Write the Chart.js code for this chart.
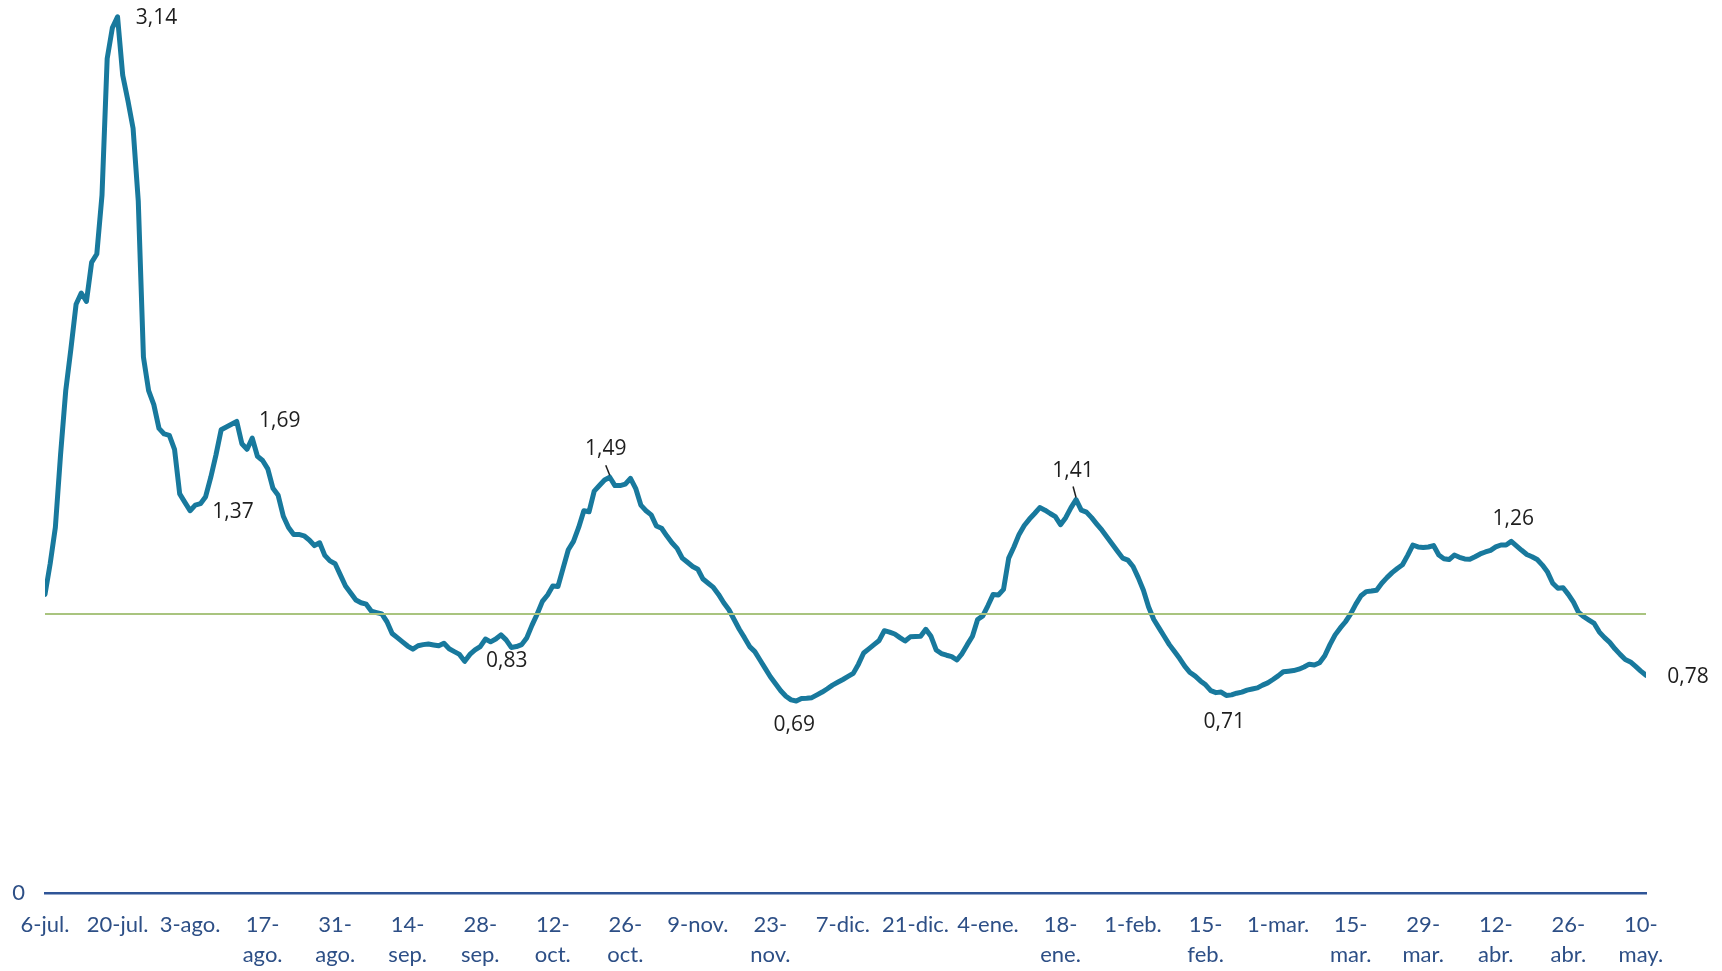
<!DOCTYPE html>
<html>
<head>
<meta charset="utf-8">
<title>R efectivo</title>
<script src="https://cdn.jsdelivr.net/npm/chart.js@4.4.1/dist/chart.umd.min.js"></script>
<style>
  html, body { margin: 0; padding: 0; background: #ffffff; }
  #chart { display: block; }
</style>
</head>
<body>
<canvas id="chart" width="1722" height="971"></canvas>
<script>
// valores diarios desde el 6-jul. (día 0) hasta el 11-may. (día 309)
const rValues = [
  1.07, 1.18, 1.31, 1.57, 1.80, 1.95, 2.11, 2.15, 2.12, 2.26, 2.29, 2.50, 2.99, 3.10,
  3.14, 2.93, 2.84, 2.74, 2.48, 1.92, 1.80, 1.75, 1.665, 1.645, 1.64, 1.59, 1.43, 1.40,
  1.37, 1.39, 1.395, 1.42, 1.49, 1.57, 1.66, 1.67, 1.68, 1.69, 1.61, 1.59, 1.63, 1.565,
  1.55, 1.52, 1.45, 1.425, 1.35, 1.31, 1.285, 1.285, 1.28, 1.265, 1.245, 1.255, 1.21, 1.19,
  1.18, 1.14, 1.10, 1.075, 1.05, 1.04, 1.035, 1.01, 1.005, 1.00, 0.972, 0.93, 0.915, 0.90,
  0.885, 0.874, 0.886, 0.89, 0.892, 0.889, 0.886, 0.895, 0.875, 0.865, 0.855, 0.83, 0.855, 0.871,
  0.883, 0.91, 0.90, 0.91, 0.925, 0.907, 0.88, 0.883, 0.89, 0.915, 0.96, 1.00, 1.045, 1.068,
  1.10, 1.098, 1.164, 1.23, 1.26, 1.31, 1.37, 1.366, 1.44, 1.46, 1.48, 1.49, 1.46, 1.46,
  1.465, 1.486, 1.45, 1.39, 1.37, 1.355, 1.315, 1.307, 1.28, 1.255, 1.235, 1.20, 1.185, 1.17,
  1.16, 1.125, 1.11, 1.095, 1.07, 1.04, 1.015, 0.98, 0.945, 0.915, 0.883, 0.865, 0.835, 0.805,
  0.775, 0.75, 0.725, 0.705, 0.692, 0.688, 0.697, 0.698, 0.70, 0.71, 0.72, 0.732, 0.745, 0.755,
  0.765, 0.776, 0.787, 0.82, 0.86, 0.875, 0.89, 0.905, 0.94, 0.935, 0.928, 0.915, 0.903, 0.918,
  0.919, 0.92, 0.945, 0.92, 0.871, 0.858, 0.852, 0.847, 0.835, 0.858, 0.89, 0.92, 0.98, 0.993,
  1.03, 1.07, 1.068, 1.088, 1.20, 1.24, 1.285, 1.317, 1.34, 1.36, 1.381, 1.372, 1.36, 1.349,
  1.32, 1.345, 1.38, 1.41, 1.372, 1.365, 1.345, 1.322, 1.30, 1.275, 1.25, 1.225, 1.20, 1.193,
  1.17, 1.13, 1.085, 1.025, 0.98, 0.95, 0.92, 0.89, 0.865, 0.84, 0.812, 0.79, 0.777, 0.76,
  0.746, 0.725, 0.718, 0.72, 0.708, 0.71, 0.716, 0.72, 0.727, 0.731, 0.735, 0.745, 0.753, 0.765,
  0.778, 0.793, 0.795, 0.797, 0.802, 0.81, 0.82, 0.817, 0.825, 0.85, 0.89, 0.925, 0.95, 0.972,
  1.00, 1.035, 1.065, 1.08, 1.082, 1.085, 1.11, 1.13, 1.148, 1.163, 1.176, 1.21, 1.247, 1.24,
  1.238, 1.24, 1.245, 1.211, 1.198, 1.195, 1.211, 1.203, 1.197, 1.196, 1.205, 1.215, 1.222, 1.228,
  1.24, 1.247, 1.247, 1.26, 1.244, 1.228, 1.213, 1.205, 1.195, 1.175, 1.15, 1.11, 1.092, 1.094,
  1.07, 1.042, 1.005, 0.99, 0.978, 0.966, 0.935, 0.915, 0.898, 0.875, 0.855, 0.837, 0.828, 0.812,
  0.795, 0.78
];

// línea de referencia R = 1
const thresholdValue = 1;

// etiquetas del eje X, una cada 14 días
const tickDays = [0, 14, 28, 42, 56, 70, 84, 98, 112, 126, 140, 154, 168, 182, 196, 210, 224, 238, 252, 266, 280, 294, 308];
const tickLabels = [
  '6-jul.', '20-jul.', '3-ago.', ['17-', 'ago.'], ['31-', 'ago.'], ['14-', 'sep.'], ['28-', 'sep.'],
  ['12-', 'oct.'], ['26-', 'oct.'], '9-nov.', ['23-', 'nov.'], '7-dic.', '21-dic.', '4-ene.',
  ['18-', 'ene.'], '1-feb.', ['15-', 'feb.'], '1-mar.', ['15-', 'mar.'], ['29-', 'mar.'],
  ['12-', 'abr.'], ['26-', 'abr.'], ['10-', 'may.']
];

// puntos con etiqueta de valor (día)
const labelDays = [14, 28, 37, 81, 109, 145, 199, 228, 283, 309];
// desplazamiento de cada etiqueta respecto a su punto, y si lleva línea guía
const labelOffsets = [[39, 1], [43, 1], [43, 0], [42, 0], [-4, -28], [-2, 24], [-3, -29], [-2, 27], [2, -22], [42, 2]];
const labelLeader = [false, false, false, false, true, false, true, false, false, false];

const lastDay = rValues.length - 1;

// dibuja las etiquetas de valor
const valueLabels = {
    id: 'valueLabels',
    afterDatasetsDraw(chart) {
        const ctx = chart.ctx;
        const x = chart.scales.x;
        const y = chart.scales.y;
        ctx.save();
        ctx.font = '21px "Open Sans"';
        ctx.fillStyle = '#1e1e1e';
        ctx.strokeStyle = '#1e1e1e';
        ctx.lineWidth = 1.5;
        ctx.textAlign = 'center';
        ctx.textBaseline = 'middle';
        labelDays.forEach((d, i) => {
            const v = rValues[d];
            const px = x.getPixelForValue(d);
            const py = y.getPixelForValue(v);
            const lx = px + labelOffsets[i][0];
            const ly = py + labelOffsets[i][1];
            ctx.fillText(v.toFixed(2).replace('.', ','), lx, ly);
            if (labelLeader[i]) {
                ctx.beginPath();
                ctx.moveTo(lx, ly + 16);
                ctx.lineTo(px, py - 2);
                ctx.stroke();
            }
        });
        ctx.restore();
    }
};

const tickFont = { family: 'Lato', size: 22, lineHeight: 1.35 };
const tickColor = '#2D4F86';

new Chart(document.getElementById('chart'), {
    type: 'line',
    data: {
        datasets: [
            {
                data: rValues.map((v, i) => ({ x: i, y: v })),
                borderColor: '#18799D',
                borderWidth: 5,
                pointRadius: 0,
                tension: 0,
                borderJoinStyle: 'round',
                borderCapStyle: 'round',
                order: 2
            },
            {
                data: [{ x: 0, y: thresholdValue }, { x: lastDay, y: thresholdValue }],
                borderColor: '#A9C47F',
                borderWidth: 2,
                pointRadius: 0,
                order: 1
            }
        ]
    },
    options: {
        responsive: false,
        animation: false,
        layout: { padding: { left: 12, right: 76, top: 0, bottom: 0 } },
        plugins: {
            legend: { display: false },
            tooltip: { enabled: false }
        },
        scales: {
            x: {
                type: 'linear',
                min: 0,
                max: lastDay,
                afterBuildTicks: axis => { axis.ticks = tickDays.map(d => ({ value: d })); },
                // alto fijo del eje para que el área del gráfico termine donde en el original
                afterFit: axis => {
                    axis.height = 78;
                    axis.paddingLeft = 0;
                    axis.paddingRight = 0;
                },
                ticks: {
                    callback: value => tickLabels[tickDays.indexOf(value)],
                    autoSkip: false,
                    maxRotation: 0,
                    padding: 17,
                    font: tickFont,
                    color: tickColor
                },
                grid: { display: false, drawTicks: false },
                border: { display: true, color: '#2F5597', width: 2.5 }
            },
            y: {
                min: 0,
                max: 3.2,
                afterBuildTicks: axis => { axis.ticks = [{ value: 0 }]; },
                afterFit: axis => {
                    axis.width = 33;
                    axis.paddingTop = 0;
                    axis.paddingBottom = 0;
                },
                ticks: {
                    padding: 20,
                    font: tickFont,
                    color: tickColor
                },
                grid: { display: false, drawTicks: false },
                border: { display: false }
            }
        }
    },
    plugins: [valueLabels]
});
</script>
</body>
</html>
